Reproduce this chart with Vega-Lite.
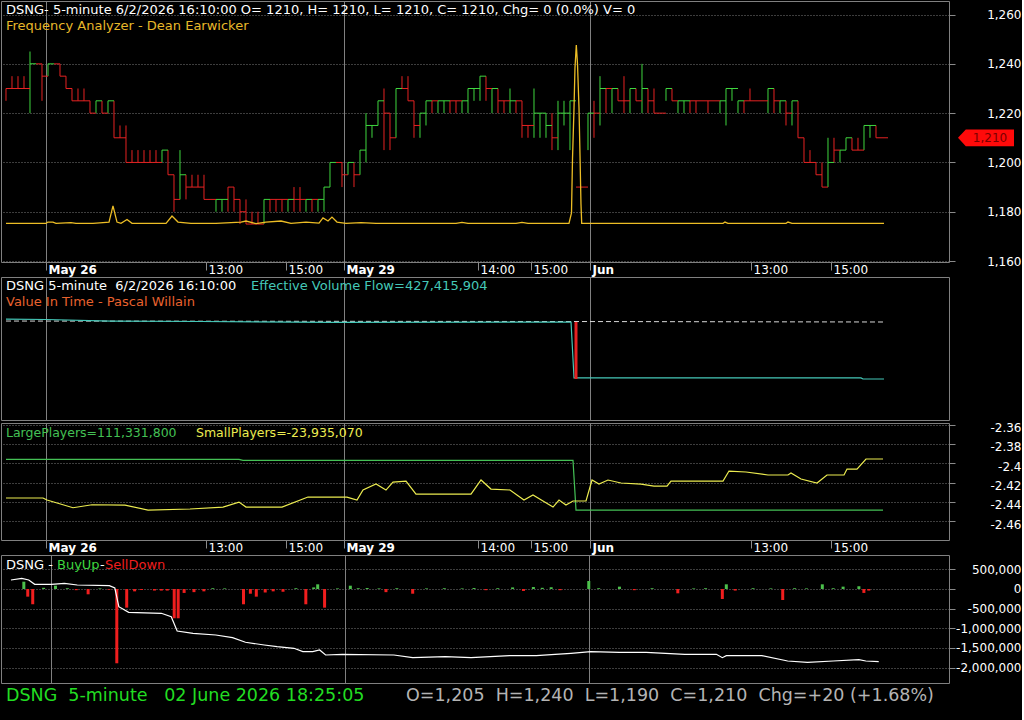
{
  "$schema": "https://vega.github.io/schema/vega-lite/v6.json",
  "background": "#000000",
  "padding": 0,
  "spacing": 0,
  "config": {
    "view": {"stroke": "#808080", "strokeWidth": 1},
    "font": "DejaVu Sans",
    "axis": {"labelFont": "DejaVu Sans", "labelFontSize": 12, "labelColor": "#ffffff", "tickColor": "#8a8a8a", "domain": false, "gridColor": "#7a7a7a"},
    "text": {"font": "DejaVu Sans", "fontSize": 13, "align": "left", "baseline": "middle"}
  },
  "datasets": {
    "price": [
      {"i":0,"o":1230,"h":1230,"l":1225,"c":1230},{"i":1,"o":1230,"h":1235,"l":1230,"c":1230},{"i":2,"o":1235,"h":1235,"l":1230,"c":1230},{"i":3,"o":1230,"h":1235,"l":1230,"c":1230},
      {"i":4,"o":1230,"h":1245,"l":1220,"c":1240},{"i":5,"o":1240,"h":1240,"l":1240,"c":1240},{"i":6,"o":1240,"h":1240,"l":1225,"c":1235},{"i":7,"o":1235,"h":1240,"l":1235,"c":1240},
      {"i":8,"o":1240,"h":1240,"l":1240,"c":1240},{"i":9,"o":1240,"h":1240,"l":1235,"c":1235},{"i":10,"o":1235,"h":1235,"l":1230,"c":1230},{"i":11,"o":1230,"h":1230,"l":1225,"c":1225},
      {"i":12,"o":1225,"h":1230,"l":1225,"c":1225},{"i":13,"o":1225,"h":1230,"l":1225,"c":1225},{"i":14,"o":1225,"h":1225,"l":1220,"c":1220},{"i":15,"o":1220,"h":1225,"l":1220,"c":1225},
      {"i":16,"o":1225,"h":1225,"l":1220,"c":1220},{"i":17,"o":1220,"h":1225,"l":1220,"c":1225},{"i":18,"o":1225,"h":1225,"l":1210,"c":1210},{"i":19,"o":1210,"h":1215,"l":1210,"c":1210},
      {"i":20,"o":1210,"h":1215,"l":1200,"c":1200},{"i":21,"o":1200,"h":1205,"l":1200,"c":1200},{"i":22,"o":1200,"h":1205,"l":1200,"c":1200},{"i":23,"o":1205,"h":1205,"l":1200,"c":1200},
      {"i":24,"o":1200,"h":1205,"l":1200,"c":1200},{"i":25,"o":1205,"h":1205,"l":1200,"c":1200},{"i":26,"o":1200,"h":1205,"l":1200,"c":1205},{"i":27,"o":1205,"h":1205,"l":1195,"c":1195},
      {"i":28,"o":1195,"h":1195,"l":1180,"c":1185},{"i":29,"o":1185,"h":1205,"l":1185,"c":1195},{"i":30,"o":1195,"h":1195,"l":1185,"c":1190},{"i":31,"o":1195,"h":1195,"l":1190,"c":1190},
      {"i":32,"o":1195,"h":1195,"l":1190,"c":1190},{"i":33,"o":1195,"h":1195,"l":1185,"c":1185},{"i":34,"o":1185,"h":1185,"l":1185,"c":1185},{"i":35,"o":1180,"h":1185,"l":1180,"c":1185},
      {"i":36,"o":1180,"h":1185,"l":1180,"c":1185},{"i":37,"o":1190,"h":1190,"l":1180,"c":1190},{"i":38,"o":1190,"h":1190,"l":1180,"c":1185},{"i":39,"o":1185,"h":1185,"l":1175,"c":1180},
      {"i":40,"o":1180,"h":1185,"l":1175,"c":1175},{"i":41,"o":1180,"h":1180,"l":1175,"c":1175},{"i":42,"o":1180,"h":1180,"l":1175,"c":1175},{"i":43,"o":1175,"h":1185,"l":1175,"c":1185},
      {"i":44,"o":1185,"h":1185,"l":1180,"c":1185},{"i":45,"o":1185,"h":1185,"l":1180,"c":1185},{"i":46,"o":1185,"h":1185,"l":1180,"c":1185},{"i":47,"o":1180,"h":1185,"l":1180,"c":1185},
      {"i":48,"o":1190,"h":1190,"l":1180,"c":1185},{"i":49,"o":1190,"h":1190,"l":1180,"c":1185},{"i":50,"o":1180,"h":1185,"l":1180,"c":1185},{"i":51,"o":1185,"h":1185,"l":1180,"c":1185},
      {"i":52,"o":1180,"h":1185,"l":1180,"c":1185},{"i":53,"o":1185,"h":1190,"l":1180,"c":1190},{"i":54,"o":1190,"h":1200,"l":1190,"c":1200},{"i":55,"o":1200,"h":1200,"l":1200,"c":1200},
      {"i":56,"o":1200,"h":1200,"l":1190,"c":1195},{"i":57,"o":1195,"h":1200,"l":1195,"c":1200},{"i":58,"o":1200,"h":1200,"l":1190,"c":1195},{"i":59,"o":1195,"h":1205,"l":1195,"c":1205},
      {"i":60,"o":1200,"h":1220,"l":1200,"c":1215},{"i":61,"o":1210,"h":1215,"l":1210,"c":1215},{"i":62,"o":1215,"h":1225,"l":1215,"c":1225},{"i":63,"o":1230,"h":1230,"l":1205,"c":1220},
      {"i":64,"o":1220,"h":1220,"l":1205,"c":1210},{"i":65,"o":1210,"h":1230,"l":1210,"c":1230},{"i":66,"o":1235,"h":1235,"l":1230,"c":1230},{"i":67,"o":1235,"h":1235,"l":1225,"c":1225},
      {"i":68,"o":1225,"h":1225,"l":1210,"c":1215},{"i":69,"o":1210,"h":1220,"l":1210,"c":1220},{"i":70,"o":1215,"h":1225,"l":1215,"c":1225},{"i":71,"o":1225,"h":1225,"l":1220,"c":1225},
      {"i":72,"o":1220,"h":1225,"l":1220,"c":1225},{"i":73,"o":1220,"h":1225,"l":1220,"c":1225},{"i":74,"o":1225,"h":1225,"l":1220,"c":1225},{"i":75,"o":1225,"h":1225,"l":1220,"c":1225},
      {"i":76,"o":1220,"h":1225,"l":1220,"c":1225},{"i":77,"o":1225,"h":1230,"l":1220,"c":1230},{"i":78,"o":1225,"h":1230,"l":1225,"c":1230},{"i":79,"o":1230,"h":1235,"l":1225,"c":1235},
      {"i":80,"o":1235,"h":1235,"l":1225,"c":1230},{"i":81,"o":1225,"h":1230,"l":1220,"c":1230},{"i":82,"o":1230,"h":1230,"l":1220,"c":1225},{"i":83,"o":1225,"h":1225,"l":1220,"c":1225},
      {"i":84,"o":1220,"h":1230,"l":1220,"c":1225},{"i":85,"o":1225,"h":1225,"l":1220,"c":1225},{"i":86,"o":1225,"h":1225,"l":1210,"c":1215},{"i":87,"o":1215,"h":1215,"l":1210,"c":1215},
      {"i":88,"o":1210,"h":1230,"l":1210,"c":1220},{"i":89,"o":1215,"h":1220,"l":1210,"c":1220},{"i":90,"o":1210,"h":1220,"l":1210,"c":1215},{"i":91,"o":1215,"h":1220,"l":1205,"c":1210},
      {"i":92,"o":1205,"h":1225,"l":1205,"c":1220},{"i":93,"o":1215,"h":1225,"l":1215,"c":1220},{"i":94,"o":1220,"h":1225,"l":1205,"c":1225},{"i":95,"o":1190,"h":1190,"l":1190,"c":1190},
      {"i":96,"o":1190,"h":1190,"l":1190,"c":1190},{"i":97,"o":1205,"h":1220,"l":1205,"c":1220},{"i":98,"o":1225,"h":1225,"l":1210,"c":1220},{"i":99,"o":1215,"h":1235,"l":1215,"c":1230},
      {"i":100,"o":1230,"h":1230,"l":1220,"c":1230},{"i":101,"o":1225,"h":1230,"l":1220,"c":1230},{"i":102,"o":1230,"h":1230,"l":1225,"c":1225},{"i":103,"o":1235,"h":1235,"l":1220,"c":1225},
      {"i":104,"o":1220,"h":1230,"l":1220,"c":1230},{"i":105,"o":1230,"h":1230,"l":1225,"c":1225},{"i":106,"o":1220,"h":1240,"l":1220,"c":1230},{"i":107,"o":1230,"h":1230,"l":1220,"c":1225},
      {"i":108,"o":1230,"h":1230,"l":1220,"c":1220},{"i":109,"o":1220,"h":1220,"l":1220,"c":1220},{"i":110,"o":1225,"h":1230,"l":1225,"c":1230},{"i":111,"o":1230,"h":1230,"l":1225,"c":1225},
      {"i":112,"o":1220,"h":1225,"l":1220,"c":1225},{"i":113,"o":1220,"h":1225,"l":1220,"c":1225},{"i":114,"o":1225,"h":1225,"l":1220,"c":1225},{"i":115,"o":1225,"h":1225,"l":1220,"c":1225},
      {"i":116,"o":1225,"h":1225,"l":1225,"c":1225},{"i":117,"o":1225,"h":1225,"l":1220,"c":1225},{"i":118,"o":1225,"h":1225,"l":1225,"c":1225},{"i":119,"o":1220,"h":1225,"l":1220,"c":1225},
      {"i":120,"o":1215,"h":1230,"l":1215,"c":1230},{"i":121,"o":1225,"h":1230,"l":1225,"c":1230},{"i":122,"o":1220,"h":1225,"l":1220,"c":1225},{"i":123,"o":1225,"h":1225,"l":1220,"c":1225},
      {"i":124,"o":1230,"h":1230,"l":1225,"c":1225},{"i":125,"o":1225,"h":1225,"l":1225,"c":1225},{"i":126,"o":1225,"h":1225,"l":1225,"c":1225},{"i":127,"o":1220,"h":1230,"l":1220,"c":1230},
      {"i":128,"o":1230,"h":1230,"l":1220,"c":1225},{"i":129,"o":1220,"h":1225,"l":1220,"c":1225},{"i":130,"o":1225,"h":1225,"l":1215,"c":1220},{"i":131,"o":1215,"h":1225,"l":1215,"c":1225},
      {"i":132,"o":1225,"h":1225,"l":1210,"c":1210},{"i":133,"o":1210,"h":1210,"l":1200,"c":1200},{"i":134,"o":1200,"h":1205,"l":1200,"c":1200},{"i":135,"o":1200,"h":1200,"l":1195,"c":1195},
      {"i":136,"o":1195,"h":1200,"l":1190,"c":1190},{"i":137,"o":1190,"h":1210,"l":1190,"c":1200},{"i":138,"o":1210,"h":1210,"l":1200,"c":1205},{"i":139,"o":1200,"h":1205,"l":1200,"c":1205},
      {"i":140,"o":1205,"h":1210,"l":1205,"c":1210},{"i":141,"o":1210,"h":1210,"l":1205,"c":1205},{"i":142,"o":1210,"h":1210,"l":1205,"c":1205},{"i":143,"o":1205,"h":1215,"l":1205,"c":1215},
      {"i":144,"o":1210,"h":1215,"l":1210,"c":1215},{"i":145,"o":1215,"h":1215,"l":1210,"c":1210},{"i":146,"o":1210,"h":1210,"l":1210,"c":1210}
    ],
    "freq": [
      {"i":0,"v":14.8},{"i":6.67,"v":14.8},{"i":7,"v":15.3},{"i":7.83,"v":15.3},{"i":8.33,"v":14.8},{"i":10.83,"v":15.1},{"i":11.67,"v":14.8},{"i":14.5,"v":14.8},
      {"i":16.17,"v":15.1},{"i":17.17,"v":15.3},{"i":17.83,"v":21.5},{"i":18.5,"v":15.3},{"i":19.17,"v":14.8},{"i":20.17,"v":16.3},{"i":21,"v":14.8},{"i":26.67,"v":14.8},
      {"i":27.67,"v":17.6},{"i":28.67,"v":15.3},{"i":30.83,"v":14.8},{"i":35,"v":14.8},{"i":39.17,"v":15.3},{"i":40,"v":15.7},{"i":41.67,"v":14.7},{"i":43.33,"v":15.3},
      {"i":45.83,"v":15.7},{"i":47.5,"v":14.8},{"i":50,"v":15.3},{"i":52.17,"v":14.9},{"i":52.83,"v":16.9},{"i":53.67,"v":15.7},{"i":54.33,"v":17.2},{"i":55.17,"v":15.3},
      {"i":56.67,"v":14.8},{"i":59.17,"v":15.1},{"i":61.67,"v":14.8},{"i":75,"v":14.8},{"i":76,"v":15.2},{"i":77,"v":14.8},{"i":85,"v":14.8},{"i":86,"v":15.2},{"i":87,"v":14.8},
      {"i":93.83,"v":14.8},{"i":94.25,"v":18.8},{"i":94.42,"v":39.8},{"i":94.67,"v":59},{"i":94.83,"v":74.3},{"i":95.05,"v":83.1},{"i":95.25,"v":75.9},{"i":95.5,"v":59},
      {"i":95.67,"v":40.6},{"i":95.83,"v":22.2},{"i":95.95,"v":14.8},{"i":119.5,"v":14.8},{"i":119.83,"v":15.3},{"i":120.33,"v":14.8},{"i":130,"v":14.8},{"i":130.33,"v":15.3},
      {"i":131,"v":14.8},{"i":146.33,"v":14.8}
    ],
    "evf": [
      {"i":0,"v":1059},{"i":6.67,"v":1054},{"i":17.5,"v":1038},{"i":32.5,"v":1033},{"i":54.17,"v":1023},{"i":94.17,"v":1028},{"i":94.67,"v":441},{"i":142.5,"v":441},{"i":142.83,"v":430},{"i":146.33,"v":430}
    ],
    "vit": [
      {"i":0,"v":1038},{"i":94,"v":1033},{"i":146.33,"v":1028}
    ],
    "large": [
      {"i":0,"v":-2.3959},{"i":38.83,"v":-2.3959},{"i":39.5,"v":-2.397},{"i":94.5,"v":-2.397},{"i":95,"v":-2.4486},{"i":146.17,"v":-2.4486}
    ],
    "small": [
      {"i":0,"v":-2.4361},{"i":6.17,"v":-2.4361},{"i":6.83,"v":-2.4382},{"i":11.17,"v":-2.4462},{"i":14.33,"v":-2.4431},{"i":19.83,"v":-2.4434},{"i":23.67,"v":-2.4486},
      {"i":30.67,"v":-2.4475},{"i":36.17,"v":-2.4455},{"i":38.83,"v":-2.4403},{"i":40,"v":-2.4455},{"i":46,"v":-2.4455},{"i":50.33,"v":-2.4351},{"i":56.83,"v":-2.4351},
      {"i":58.5,"v":-2.4382},{"i":59.5,"v":-2.4278},{"i":61.67,"v":-2.4216},{"i":63.33,"v":-2.4278},{"i":64.5,"v":-2.4195},{"i":66.67,"v":-2.4185},{"i":68.33,"v":-2.432},
      {"i":77.5,"v":-2.432},{"i":79.17,"v":-2.4174},{"i":80.83,"v":-2.4268},{"i":84,"v":-2.4278},{"i":86.33,"v":-2.4382},{"i":87.83,"v":-2.433},{"i":89.5,"v":-2.4392},
      {"i":91.17,"v":-2.4455},{"i":92.17,"v":-2.4382},{"i":93.33,"v":-2.4434},{"i":94.5,"v":-2.4392},{"i":96.67,"v":-2.4392},{"i":97.67,"v":-2.4174},{"i":98.83,"v":-2.4216},
      {"i":100.33,"v":-2.4174},{"i":102.5,"v":-2.4205},{"i":105.83,"v":-2.4216},{"i":108,"v":-2.4237},{"i":110.17,"v":-2.4237},{"i":110.83,"v":-2.4185},{"i":119.5,"v":-2.4185},
      {"i":120.5,"v":-2.4081},{"i":123.33,"v":-2.4091},{"i":127,"v":-2.4122},{"i":130.33,"v":-2.4122},{"i":130.83,"v":-2.4102},{"i":132.5,"v":-2.4164},{"i":135.17,"v":-2.4205},
      {"i":136.83,"v":-2.4122},{"i":139.67,"v":-2.4122},{"i":140.17,"v":-2.406},{"i":141.83,"v":-2.406},{"i":143.33,"v":-2.3956},{"i":146.17,"v":-2.3956}
    ],
    "buysell": [
      {"i":2.17,"v":186000},{"i":2.83,"v":-195000},{"i":3.67,"v":-390000},{"i":5.5,"v":30000},{"i":7.5,"v":84000},{"i":9.5,"v":20000},{"i":11,"v":-30000},{"i":13,"v":-135000},
      {"i":15,"v":15000},{"i":16.5,"v":-20000},{"i":17.83,"v":-1890000},{"i":19.5,"v":-475000},{"i":20.83,"v":-60000},{"i":22,"v":-25000},{"i":24.17,"v":-40000},{"i":25.33,"v":-40000},
      {"i":26.33,"v":-40000},{"i":27.5,"v":-745000},{"i":28.17,"v":-745000},{"i":29.17,"v":-100000},{"i":30.83,"v":-80000},{"i":32.5,"v":-60000},{"i":34,"v":20000},{"i":36,"v":15000},
      {"i":39.17,"v":-389000},{"i":40.33,"v":-120000},{"i":41.33,"v":-195000},{"i":42.83,"v":-89000},{"i":44.17,"v":-60000},{"i":45.83,"v":-70000},{"i":48,"v":20000},{"i":49.67,"v":-389000},
      {"i":51,"v":40000},{"i":51.67,"v":119000},{"i":52.83,"v":-475000},{"i":55,"v":15000},{"i":57.17,"v":84000},{"i":58.5,"v":20000},{"i":60,"v":25000},{"i":62,"v":15000},
      {"i":63.17,"v":-80000},{"i":65,"v":20000},{"i":67.67,"v":-120000},{"i":70,"v":15000},{"i":73,"v":20000},{"i":76,"v":15000},{"i":78,"v":25000},{"i":80,"v":-30000},
      {"i":82,"v":20000},{"i":84.5,"v":40000},{"i":86.33,"v":-50000},{"i":88,"v":50000},{"i":89.5,"v":30000},{"i":91,"v":45000},{"i":92.5,"v":-30000},{"i":97.33,"v":204000},
      {"i":99,"v":20000},{"i":102.5,"v":60000},{"i":105,"v":-30000},{"i":108,"v":20000},{"i":112.33,"v":-110000},{"i":115,"v":15000},{"i":117,"v":20000},{"i":119.83,"v":-254000},
      {"i":120.5,"v":119000},{"i":122,"v":-40000},{"i":125,"v":20000},{"i":128,"v":15000},{"i":130,"v":-280000},{"i":132,"v":20000},{"i":134,"v":15000},{"i":136.67,"v":119000},
      {"i":138.5,"v":20000},{"i":140.17,"v":60000},{"i":142.83,"v":70000},{"i":143.67,"v":-100000},{"i":144.5,"v":-40000}
    ],
    "cum": [
      {"i":0,"v":229000},{"i":1.83,"v":272000},{"i":3,"v":229000},{"i":4,"v":120000},{"i":6.83,"v":120000},{"i":9,"v":145000},{"i":11.17,"v":102000},{"i":16.58,"v":84000},
      {"i":17.5,"v":25000},{"i":18.17,"v":-450000},{"i":19.83,"v":-593000},{"i":25.33,"v":-618000},{"i":27,"v":-705000},{"i":28,"v":-1069000},{"i":30.67,"v":-1127000},
      {"i":34.5,"v":-1170000},{"i":37.33,"v":-1239000},{"i":39.5,"v":-1356000},{"i":42.67,"v":-1425000},{"i":44.83,"v":-1468000},{"i":47.67,"v":-1509000},{"i":49.17,"v":-1595000},
      {"i":50.83,"v":-1595000},{"i":52,"v":-1552000},{"i":53,"v":-1679000},{"i":55.83,"v":-1662000},{"i":64.5,"v":-1679000},{"i":67.67,"v":-1748000},{"i":73.17,"v":-1723000},
      {"i":77.5,"v":-1748000},{"i":84,"v":-1697000},{"i":88.5,"v":-1697000},{"i":91.67,"v":-1662000},{"i":94.33,"v":-1636000},{"i":97.67,"v":-1595000},{"i":102.5,"v":-1611000},
      {"i":107,"v":-1611000},{"i":113.5,"v":-1662000},{"i":118.83,"v":-1662000},{"i":119.83,"v":-1748000},{"i":120.5,"v":-1697000},{"i":126.5,"v":-1697000},{"i":130.83,"v":-1832000},
      {"i":134.17,"v":-1865000},{"i":138.5,"v":-1832000},{"i":142.83,"v":-1799000},{"i":144,"v":-1832000},{"i":146.17,"v":-1850000}
    ]
  },
  "vconcat": [
    {
      "width": 948,
      "height": 261,
      "layer": [
        {
          "data": {"name": "price"},
          "mark": {"type": "rule", "strokeWidth": 1},
          "encoding": {
            "x": {"field": "i", "type": "quantitative", "scale": {"domain": [-0.833, 157.167], "nice": false, "zero": false},
              "axis": {"title": null, "values": [6.667, 33.333, 46.667, 56.333, 78.667, 87.5, 97.333, 124.167, 137.5],
                "labelExpr": "datum.value < 10 ? 'May 26' : datum.value < 40 ? '13:00' : datum.value < 50 ? '15:00' : datum.value < 60 ? 'May 29' : datum.value < 80 ? '14:00' : datum.value < 90 ? '15:00' : datum.value < 100 ? 'Jun' : datum.value < 130 ? '13:00' : '15:00'",
                "labelAlign": "left", "labelOffset": 2, "labelPadding": -6, "tickSize": 8, "labelOverlap": false, "labelFlush": false, "labelBound": false,
                "labelFontWeight": {"condition": {"test": "datum.value < 10 || (datum.value > 50 && datum.value < 60) || (datum.value > 90 && datum.value < 100)", "value": "bold"}, "value": "normal"},
                "grid": true, "gridDash": [], "gridColor": "#808080",
                "gridOpacity": {"condition": {"test": "datum.value < 10 || (datum.value > 50 && datum.value < 60) || (datum.value > 90 && datum.value < 100)", "value": 1}, "value": 0}}},
            "y": {"field": "l", "type": "quantitative", "scale": {"domain": [1159.6, 1265.5], "nice": false, "zero": false},
              "axis": {"title": null, "orient": "right", "values": [1160, 1180, 1200, 1220, 1240, 1260], "labelExpr": "format(datum.value, ',')", "tickSize": 6, "labelAlign": "right", "labelPadding": 66, "labelBaseline": "middle", "labelOverlap": false, "labelFlush": false, "grid": true, "gridDash": [1, 2]}},
            "y2": {"field": "h"},
            "color": {"condition": {"test": "datum.c > datum.o", "value": "#3fd63f"}, "value": "#e52222"}
          }
        },
        {
          "data": {"name": "price"},
          "mark": {"type": "tick", "orient": "horizontal", "size": 6, "thickness": 1, "xOffset": 3, "opacity": 1},
          "encoding": {
            "x": {"field": "i", "type": "quantitative", "scale": {"domain": [-0.833, 157.167], "nice": false, "zero": false}},
            "y": {"field": "c", "type": "quantitative", "scale": {"domain": [1159.6, 1265.5], "nice": false, "zero": false}, "axis": null},
            "color": {"condition": {"test": "datum.c > datum.o", "value": "#3fd63f"}, "value": "#e52222"}
          }
        },
        {
          "data": {"name": "freq"},
          "mark": {"type": "line", "color": "#ecbd25", "strokeWidth": 1.3},
          "encoding": {
            "x": {"field": "i", "type": "quantitative", "scale": {"domain": [-0.833, 157.167], "nice": false, "zero": false}},
            "y": {"field": "v", "type": "quantitative", "scale": {"domain": [0, 100], "nice": false, "zero": false}, "axis": null}
          }
        },
        {
          "data": {"values": [{"p": 1210}]},
          "mark": {"type": "point", "shape": "M-1,0L-0.72,-0.3L1,-0.3L1,0.3L-0.72,0.3Z", "size": 3136, "filled": true, "color": "#ff0a0a", "opacity": 1, "strokeWidth": 0},
          "encoding": {
            "x": {"datum": 163.33, "type": "quantitative", "scale": {"domain": [-0.833, 157.167], "nice": false, "zero": false}},
            "y": {"field": "p", "type": "quantitative", "scale": {"domain": [1159.6, 1265.5], "nice": false, "zero": false}, "axis": null}
          }
        },
        {
          "data": {"values": [{"p": 1210, "t": "1,210"}]},
          "mark": {"type": "text", "align": "center", "color": "#7a0000", "dx": 4, "fontSize": 12},
          "encoding": {
            "x": {"datum": 163.33, "type": "quantitative", "scale": {"domain": [-0.833, 157.167], "nice": false, "zero": false}},
            "y": {"field": "p", "type": "quantitative", "scale": {"domain": [1159.6, 1265.5], "nice": false, "zero": false}, "axis": null},
            "text": {"field": "t"}
          }
        },
        {
          "data": {"values": [{"t": "DSNG- 5-minute 6/2/2026 16:10:00 O= 1210, H= 1210, L= 1210, C= 1210, Chg= 0 (0.0%) V= 0"}]},
          "mark": {"type": "text", "color": "#ffffff"},
          "encoding": {"x": {"value": 5}, "y": {"value": 9}, "text": {"field": "t"}}
        },
        {
          "data": {"values": [{"t": "Frequency Analyzer - Dean Earwicker"}]},
          "mark": {"type": "text", "color": "#e8b82a"},
          "encoding": {"x": {"value": 5}, "y": {"value": 25}, "text": {"field": "t"}}
        }
      ],
      "resolve": {"scale": {"y": "independent"}}
    },
    {
      "width": 948,
      "height": 143,
      "layer": [
        {
          "data": {"name": "vit"},
          "mark": {"type": "line", "color": "#d8d8d8", "strokeWidth": 1, "strokeDash": [5, 3]},
          "encoding": {
            "x": {"field": "i", "type": "quantitative", "scale": {"domain": [-0.833, 157.167], "nice": false, "zero": false},
              "axis": {"title": null, "values": [6.667, 56.333, 97.333], "labels": false, "ticks": false, "domain": false, "grid": true, "gridDash": [], "gridColor": "#808080"}},
            "y": {"field": "v", "type": "quantitative", "scale": {"domain": [0, 1500], "nice": false, "zero": false}, "axis": null}
          }
        },
        {
          "data": {"name": "evf"},
          "mark": {"type": "line", "color": "#45c8b8", "strokeWidth": 1.2},
          "encoding": {
            "x": {"field": "i", "type": "quantitative", "scale": {"domain": [-0.833, 157.167], "nice": false, "zero": false}},
            "y": {"field": "v", "type": "quantitative", "scale": {"domain": [0, 1500], "nice": false, "zero": false}, "axis": null}
          }
        },
        {
          "data": {"values": [{"i": 95, "a": 1028, "b": 430}]},
          "mark": {"type": "rule", "color": "#e52222", "strokeWidth": 3},
          "encoding": {
            "x": {"field": "i", "type": "quantitative", "scale": {"domain": [-0.833, 157.167], "nice": false, "zero": false}},
            "y": {"field": "a", "type": "quantitative", "scale": {"domain": [0, 1500], "nice": false, "zero": false}, "axis": null},
            "y2": {"field": "b"}
          }
        },
        {
          "data": {"values": [{"t": "DSNG 5-minute \u00a06/2/2026 16:10:00"}]},
          "mark": {"type": "text", "color": "#ffffff"},
          "encoding": {"x": {"value": 5}, "y": {"value": 9}, "text": {"field": "t"}}
        },
        {
          "data": {"values": [{"t": "Effective Volume Flow=427,415,904"}]},
          "mark": {"type": "text", "color": "#45c8b8"},
          "encoding": {"x": {"value": 250}, "y": {"value": 9}, "text": {"field": "t"}}
        },
        {
          "data": {"values": [{"t": "Value In Time - Pascal Willain"}]},
          "mark": {"type": "text", "color": "#e8622e"},
          "encoding": {"x": {"value": 5}, "y": {"value": 25}, "text": {"field": "t"}}
        }
      ]
    },
    {
      "width": 948,
      "height": 117,
      "layer": [
        {
          "data": {"name": "large"},
          "mark": {"type": "line", "color": "#44c055", "strokeWidth": 1.2},
          "encoding": {
            "x": {"field": "i", "type": "quantitative", "scale": {"domain": [-0.833, 157.167], "nice": false, "zero": false},
              "axis": {"title": null, "values": [6.667, 33.333, 46.667, 56.333, 78.667, 87.5, 97.333, 124.167, 137.5],
                "labelExpr": "datum.value < 10 ? 'May 26' : datum.value < 40 ? '13:00' : datum.value < 50 ? '15:00' : datum.value < 60 ? 'May 29' : datum.value < 80 ? '14:00' : datum.value < 90 ? '15:00' : datum.value < 100 ? 'Jun' : datum.value < 130 ? '13:00' : '15:00'",
                "labelAlign": "left", "labelOffset": 2, "labelPadding": -6, "tickSize": 8, "labelOverlap": false, "labelFlush": false, "labelBound": false,
                "labelFontWeight": {"condition": {"test": "datum.value < 10 || (datum.value > 50 && datum.value < 60) || (datum.value > 90 && datum.value < 100)", "value": "bold"}, "value": "normal"},
                "grid": true, "gridDash": [], "gridColor": "#808080",
                "gridOpacity": {"condition": {"test": "datum.value < 10 || (datum.value > 50 && datum.value < 60) || (datum.value > 90 && datum.value < 100)", "value": 1}, "value": 0}}},
            "y": {"field": "v", "type": "quantitative", "scale": {"domain": [-2.4797, -2.3582], "nice": false, "zero": false},
              "axis": {"title": null, "orient": "right", "values": [-2.36, -2.38, -2.4, -2.42, -2.44, -2.46], "labelExpr": "'' + datum.value", "tickSize": 6, "labelAlign": "right", "labelPadding": 66, "labelBaseline": "middle", "labelOffset": 3, "labelOverlap": false, "labelFlush": false, "grid": true, "gridDash": [1, 2]}}
          }
        },
        {
          "data": {"name": "small"},
          "mark": {"type": "line", "color": "#ecec50", "strokeWidth": 1.2},
          "encoding": {
            "x": {"field": "i", "type": "quantitative", "scale": {"domain": [-0.833, 157.167], "nice": false, "zero": false}},
            "y": {"field": "v", "type": "quantitative", "scale": {"domain": [-2.4797, -2.3582], "nice": false, "zero": false},
              "axis": {"title": null, "orient": "right", "values": [-2.36, -2.38, -2.4, -2.42, -2.44, -2.46], "labelExpr": "'' + datum.value", "tickSize": 6, "labelAlign": "right", "labelPadding": 66, "labelBaseline": "middle", "labelOffset": 3, "labelOverlap": false, "labelFlush": false, "grid": true, "gridDash": [1, 2]}}
          }
        },
        {
          "data": {"values": [{"t": "LargePlayers=111,331,800"}]},
          "mark": {"type": "text", "color": "#44c055", "fontSize": 12.5},
          "encoding": {"x": {"value": 5}, "y": {"value": 10}, "text": {"field": "t"}}
        },
        {
          "data": {"values": [{"t": "SmallPlayers=-23,935,070"}]},
          "mark": {"type": "text", "color": "#ecec50", "fontSize": 12.5},
          "encoding": {"x": {"value": 195}, "y": {"value": 10}, "text": {"field": "t"}}
        }
      ]
    },
    {
      "width": 948,
      "height": 128,
      "layer": [
        {
          "data": {"name": "buysell"},
          "mark": {"type": "bar", "size": 3, "orient": "vertical"},
          "encoding": {
            "x": {"field": "i", "type": "quantitative", "scale": {"domain": [-0.833, 157.167], "nice": false, "zero": false},
              "axis": {"title": null, "values": [6.667, 56.333, 97.333], "labels": false, "ticks": false, "domain": false, "grid": true, "gridDash": [], "gridColor": "#808080"}},
            "y": {"field": "v", "type": "quantitative", "scale": {"domain": [-2392000, 865000], "nice": false, "zero": false},
              "axis": {"title": null, "orient": "right", "values": [500000, 0, -500000, -1000000, -1500000, -2000000], "labelExpr": "replace(format(datum.value, ','), '\u2212', '-')", "tickSize": 6, "labelAlign": "right", "labelPadding": 66, "labelBaseline": "middle", "labelOverlap": false, "labelFlush": false, "grid": true, "gridDash": [1, 2]}},
            "color": {"condition": {"test": "datum.v > 0", "value": "#4cc04c"}, "value": "#f01e1e"}
          }
        },
        {
          "data": {"name": "cum"},
          "mark": {"type": "line", "color": "#ffffff", "strokeWidth": 1.2},
          "encoding": {
            "x": {"field": "i", "type": "quantitative", "scale": {"domain": [-0.833, 157.167], "nice": false, "zero": false},
              "axis": {"title": null, "values": [6.667, 56.333, 97.333], "labels": false, "ticks": false, "domain": false, "grid": true, "gridDash": [], "gridColor": "#808080"}},
            "y": {"field": "v", "type": "quantitative", "scale": {"domain": [-2392000, 865000], "nice": false, "zero": false},
              "axis": {"title": null, "orient": "right", "values": [500000, 0, -500000, -1000000, -1500000, -2000000], "labelExpr": "replace(format(datum.value, ','), '\u2212', '-')", "tickSize": 6, "labelAlign": "right", "labelPadding": 66, "labelBaseline": "middle", "labelOverlap": false, "labelFlush": false, "grid": true, "gridDash": [1, 2]}}
          }
        },
        {
          "data": {"values": [{"t": "DSNG - "}]},
          "mark": {"type": "text", "color": "#ffffff"},
          "encoding": {"x": {"value": 5}, "y": {"value": 10}, "text": {"field": "t"}}
        },
        {
          "data": {"values": [{"t": "BuyUp"}]},
          "mark": {"type": "text", "color": "#3fd63f"},
          "encoding": {"x": {"value": 56}, "y": {"value": 10}, "text": {"field": "t"}}
        },
        {
          "data": {"values": [{"t": "-"}]},
          "mark": {"type": "text", "color": "#ffffff"},
          "encoding": {"x": {"value": 99}, "y": {"value": 10}, "text": {"field": "t"}}
        },
        {
          "data": {"values": [{"t": "SellDown"}]},
          "mark": {"type": "text", "color": "#f01e1e"},
          "encoding": {"x": {"value": 104}, "y": {"value": 10}, "text": {"field": "t"}}
        }
      ]
    },
    {
      "width": 948,
      "height": 37,
      "view": {"stroke": null},
      "layer": [
        {
          "data": {"values": [{"t": "DSNG \u00a05-minute \u00a0\u00a002 June 2026 18:25:05"}]},
          "mark": {"type": "text", "color": "#22dd22", "fontSize": 17.5},
          "encoding": {"x": {"value": 5}, "y": {"value": 12}, "text": {"field": "t"}}
        },
        {
          "data": {"values": [{"t": "O=1,205 \u00a0H=1,240 \u00a0L=1,190 \u00a0C=1,210 \u00a0Chg=+20 (+1.68%)"}]},
          "mark": {"type": "text", "color": "#b4b4b4", "fontSize": 17.5},
          "encoding": {"x": {"value": 405}, "y": {"value": 12}, "text": {"field": "t"}}
        }
      ]
    }
  ]
}
